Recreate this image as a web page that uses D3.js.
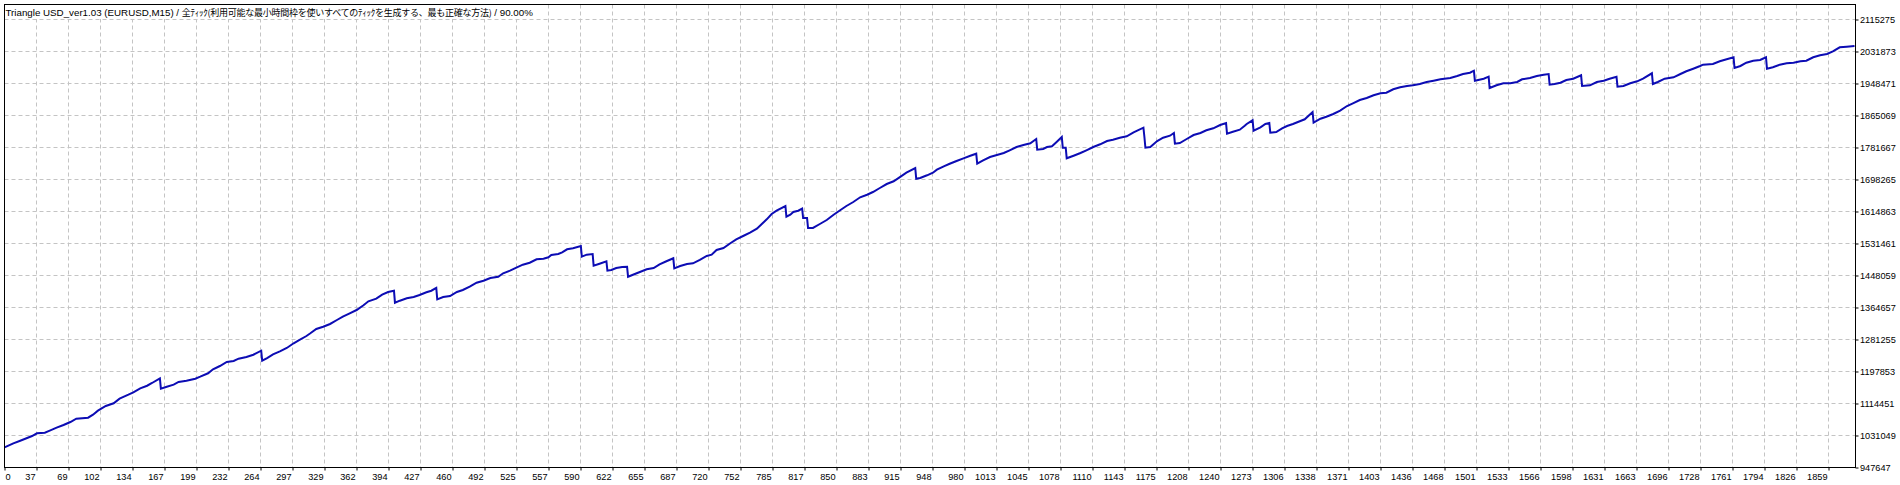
<!DOCTYPE html>
<html><head><meta charset="utf-8">
<script src="https://cdn.jsdelivr.net/npm/d3@7"></script>
<style>
html,body{margin:0;padding:0;background:#fff;overflow:hidden}
svg{display:block}
text{font-family:"Liberation Sans",Arial,"Noto Sans CJK JP",sans-serif}
</style></head><body>
<svg id="chart" width="1900" height="485"></svg>
<script>
const titleParts = [
  {text: "Triangle USD_ver1.03 (EURUSD,M15) / ", cjk: false},
  {text: "全ﾃｨｯｸ(利用可能な最小時間枠を使いすべてのﾃｨｯｸを生成する、最も正確な方法)", cjk: true},
  {text: " / 90.00%", cjk: false}
];

const tradeIndex = [0,9,16,23,28,33,41,46,53,60,67,73,85,90,95,103,111,117,126,131,138,145,150,158,159,165,172,177,185,194,199,207,212,219,226,233,238,246,253,261,262,267,273,280,287,294,300,307,311,317,324,331,338,344,351,358,365,370,378,384,390,396,397,402,409,416,422,429,434,439,440,446,453,460,466,473,480,487,494,502,507,514,521,527,534,541,548,553,556,563,567,572,578,586,587,592,598,599,605,612,613,617,622,628,633,634,639,646,653,660,666,673,680,681,687,694,700,707,714,719,724,731,738,744,751,758,765,770,775,780,785,794,795,799,802,807,811,812,816,817,822,829,836,843,850,856,863,870,877,883,890,897,904,910,917,926,927,931,938,944,948,955,961,968,975,982,988,989,995,1002,1009,1016,1022,1029,1036,1043,1049,1050,1056,1060,1065,1070,1075,1076,1079,1080,1087,1094,1100,1107,1114,1121,1127,1134,1141,1148,1158,1159,1160,1165,1172,1178,1185,1189,1190,1195,1202,1209,1216,1222,1229,1236,1242,1243,1249,1256,1261,1263,1269,1270,1277,1282,1286,1287,1293,1299,1304,1310,1317,1322,1330,1331,1338,1344,1351,1358,1365,1371,1378,1385,1392,1399,1405,1412,1419,1426,1432,1439,1446,1453,1460,1470,1477,1483,1490,1494,1495,1504,1509,1510,1517,1524,1531,1538,1543,1551,1558,1565,1570,1571,1576,1582,1588,1595,1603,1604,1612,1619,1626,1632,1639,1640,1646,1653,1660,1666,1675,1676,1681,1688,1697,1704,1710,1717,1724,1727,1737,1744,1751,1758,1759,1765,1771,1778,1785,1791,1792,1798,1805,1812,1819,1826,1832,1839,1846,1853,1859,1866,1873,1881];

const balance = [1000000,1010700,1017500,1024500,1029700,1036800,1038300,1043600,1051400,1058400,1066200,1074800,1077400,1085300,1095700,1107900,1115000,1127000,1137400,1143600,1154100,1160800,1167900,1180100,1153000,1158200,1163500,1170500,1173900,1179100,1184300,1193200,1203600,1212200,1222600,1225200,1231200,1235600,1241600,1252100,1226000,1233000,1242700,1250500,1259100,1271400,1280000,1290400,1297400,1308600,1314600,1321700,1332100,1340700,1349500,1358100,1370400,1380800,1387600,1398000,1405100,1408400,1377200,1382400,1388600,1392000,1397200,1404300,1408400,1415500,1386000,1392000,1394600,1405100,1410300,1418900,1429300,1434500,1441500,1444900,1453800,1460600,1469400,1476200,1481400,1490300,1491800,1495500,1501500,1504100,1508500,1516300,1519000,1524900,1497100,1502300,1504100,1473600,1478800,1485100,1460600,1462400,1467600,1470200,1471000,1444900,1450100,1457200,1464200,1467600,1477200,1485100,1492900,1466800,1472800,1478000,1479900,1488500,1498900,1502300,1514500,1519700,1532000,1542400,1551000,1559600,1570000,1582300,1594500,1608300,1616900,1629200,1601300,1606500,1613600,1616900,1622200,1597900,1597900,1571900,1571900,1582300,1592700,1606500,1618800,1629200,1639600,1651900,1658600,1665700,1676100,1686500,1693600,1704000,1716000,1728200,1700300,1702200,1709200,1716000,1723800,1732700,1739400,1746500,1753500,1760300,1765500,1739400,1748300,1756900,1762100,1767300,1774400,1783000,1788200,1792600,1803800,1775900,1777800,1783000,1784800,1796800,1809000,1781100,1781100,1753500,1760300,1767300,1774400,1783000,1790000,1798600,1802000,1807200,1810900,1821300,1833300,1809000,1781100,1783000,1798600,1807200,1812400,1819500,1791600,1793400,1803800,1814200,1819500,1826500,1831700,1840300,1845500,1817600,1822800,1828100,1838500,1842900,1852600,1825500,1834300,1842900,1845500,1820200,1822100,1831700,1837700,1842900,1850000,1855200,1874200,1846300,1856700,1861900,1869000,1877600,1889800,1896900,1905500,1910700,1917700,1922900,1924500,1933400,1938600,1942000,1943800,1947200,1952400,1955800,1959400,1962800,1968000,1973200,1976600,1981800,1955800,1961000,1966200,1936700,1943800,1949000,1949000,1952400,1959400,1962800,1968000,1971400,1973200,1945300,1947200,1950600,1957600,1961000,1969800,1942000,1943800,1952400,1955800,1961000,1966200,1940100,1942000,1949000,1954200,1961000,1975100,1947200,1952400,1961000,1964600,1973200,1980300,1987000,1994100,1997500,1999300,2006300,2011500,2016800,1988900,1994100,2002700,2007900,2009700,2016800,1987000,1990700,1997500,2001100,2002700,2006300,2007900,2016800,2022000,2025400,2032400,2042800,2044400,2046200];

const xTickLabels = [0,37,69,102,134,167,199,232,264,297,329,362,394,427,460,492,525,557,590,622,655,687,720,752,785,817,850,883,915,948,980,1013,1045,1078,1110,1143,1175,1208,1240,1273,1306,1338,1371,1403,1436,1468,1501,1533,1566,1598,1631,1663,1696,1728,1761,1794,1826,1859];

const yTickLabels = [947647,1031049,1114451,1197853,1281255,1364657,1448059,1531461,1614863,1698265,1781667,1865069,1948471,2031873,2115275];

const totalTrades = 1882;      // trade count at right edge of plot
const yMax = 2154369;          // balance at top edge of plot

const L = 4.5, R = 1855.5, T = 4.5, B = 467.5;
const svg = d3.select("#chart");

const x = d3.scaleLinear().domain([0, totalTrades]).range([L, R]);
const y = d3.scaleLinear().domain([yTickLabels[0], yMax]).range([B, T]);

// grid step: ticks every 32px
const gridStep = x.invert(L + 32) - x.invert(L);
const xTickPos = xTickLabels.map((d, i) => i * gridStep);

svg.append("rect").attr("x",0).attr("y",0).attr("width",1900).attr("height",485).attr("fill","#fff");

// grid
const grid = svg.append("g").attr("stroke","#c4c4c4").attr("stroke-width",1).attr("stroke-dasharray","4,3");
grid.selectAll("line.v").data(xTickPos.slice(1)).join("line")
  .attr("x1", d => Math.round(x(d) - 0.5) + 0.5).attr("x2", d => Math.round(x(d) - 0.5) + 0.5)
  .attr("y1", T).attr("y2", B);
grid.selectAll("line.h").data(yTickLabels.slice(1)).join("line")
  .attr("x1", L).attr("x2", R)
  .attr("y1", d => Math.round(y(d) - 0.5) + 0.5).attr("y2", d => Math.round(y(d) - 0.5) + 0.5);

// title with white background
const tg = svg.append("g");
const tt = tg.append("text").attr("x", 5.5).attr("y", 16).attr("fill","#000");
tt.selectAll("tspan").data(titleParts).join("tspan")
  .attr("font-family", d => d.cjk ? "\"Noto Sans CJK JP\",sans-serif" : "\"Liberation Sans\",Arial,sans-serif")
  .attr("font-size", d => d.cjk ? "9px" : "9.75px")
  .attr("letter-spacing", d => d.cjk ? "-0.25px" : "0px")
  .text(d => d.text);
const bb = tt.node().getBBox();
tg.insert("rect","text").attr("x", L + 0.5).attr("y", T + 0.5).attr("width", bb.width + 3).attr("height", 14).attr("fill","#fff");

// balance line
svg.append("defs").append("clipPath").attr("id","clip").append("rect")
  .attr("x", L).attr("y", T).attr("width", R - L).attr("height", B - T);
const data = tradeIndex.map((d, i) => [d, balance[i]]);
svg.append("path").datum(data)
  .attr("clip-path","url(#clip)")
  .attr("fill","none").attr("stroke","#0c0cb4").attr("stroke-width",2)
  .attr("d", d3.line().x(d => x(d[0])).y(d => y(d[1])));

// frame
svg.append("rect").attr("x", L).attr("y", T).attr("width", R - L).attr("height", B - T)
  .attr("fill","none").attr("stroke","#000").attr("stroke-width",1);

// right axis
const yAxis = svg.append("g").attr("transform", `translate(${R},0)`)
  .call(d3.axisRight(y).tickValues(yTickLabels).tickFormat(d3.format("d")).tickSizeInner(3).tickSizeOuter(0).tickPadding(1.5));
yAxis.select(".domain").remove();
yAxis.selectAll("text").attr("font-size","9.2px").attr("font-family","\"Liberation Sans\",Arial,sans-serif").attr("fill","#000");
yAxis.selectAll("line").attr("stroke","#000");

// bottom axis
const xAxis = svg.append("g").attr("transform", `translate(0,${B})`)
  .call(d3.axisBottom(x).tickValues(xTickPos).tickFormat((d, i) => xTickLabels[i]).tickSizeInner(3).tickSizeOuter(0));
xAxis.select(".domain").remove();
xAxis.selectAll("line").attr("stroke","#000");
xAxis.selectAll("text")
  .attr("font-size","9.2px").attr("font-family","\"Liberation Sans\",Arial,sans-serif").attr("fill","#000")
  .attr("dy", 0).attr("y", 12)
  .attr("text-anchor", (d, i) => i === 0 ? "start" : "end")
  .attr("x", (d, i) => i === 0 ? 0.5 : -1.5);
</script>
</body></html>
